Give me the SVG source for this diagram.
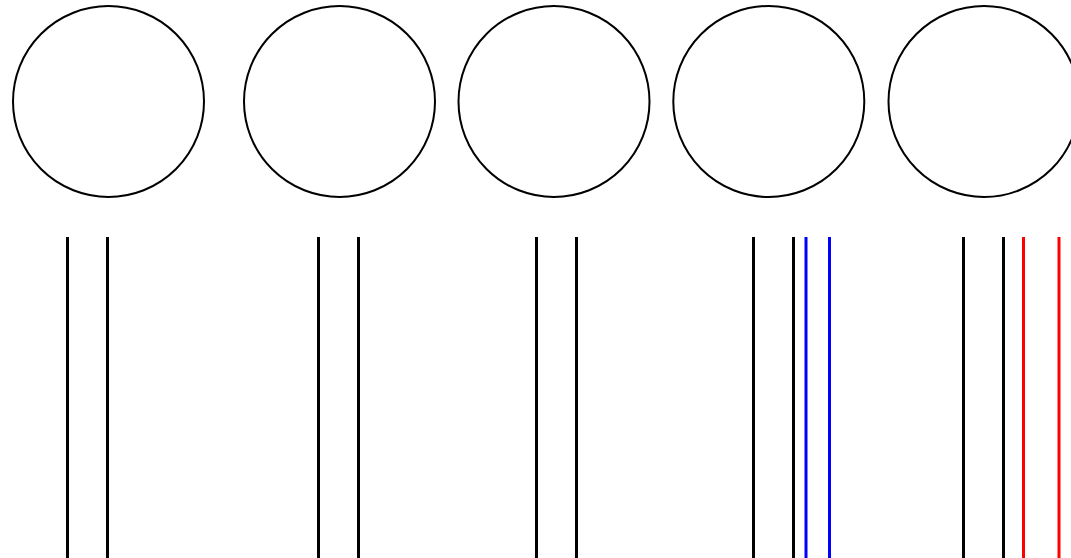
<svg xmlns="http://www.w3.org/2000/svg" width="1071" height="558" viewBox="0 0 1071 558">
<style>
.node{fill:none;stroke:#000;stroke-width:2}
.ln{stroke:#000;stroke-width:3;fill:none}
.blue{stroke:#0000ff}
.red{stroke:#ff0000}
</style>
<rect width="1071" height="558" fill="#fff"/>
<g id="node1"><circle class="node" cx="108.5" cy="101.5" r="95.5"/></g>
<g id="node2"><circle class="node" cx="339.5" cy="101.5" r="95.5"/></g>
<g id="node3"><circle class="node" cx="554" cy="101.5" r="95.5"/></g>
<g id="node4"><circle class="node" cx="768.8" cy="101.5" r="95.5"/></g>
<g id="node5"><circle class="node" cx="984" cy="101.5" r="95.5"/></g>
<g id="connectors">
<line class="ln" x1="67.5" y1="237" x2="67.5" y2="558"/>
<line class="ln" x1="107.5" y1="237" x2="107.5" y2="558"/>
<line class="ln" x1="318.5" y1="237" x2="318.5" y2="558"/>
<line class="ln" x1="358.5" y1="237" x2="358.5" y2="558"/>
<line class="ln" x1="536.5" y1="237" x2="536.5" y2="558"/>
<line class="ln" x1="576.5" y1="237" x2="576.5" y2="558"/>
<line class="ln" x1="753.5" y1="237" x2="753.5" y2="558"/>
<line class="ln" x1="793.5" y1="237" x2="793.5" y2="558"/>
<line class="ln blue" x1="806" y1="237" x2="806" y2="558"/>
<line class="ln blue" x1="829.5" y1="237" x2="829.5" y2="558"/>
<line class="ln" x1="963.5" y1="237" x2="963.5" y2="558"/>
<line class="ln" x1="1003.5" y1="237" x2="1003.5" y2="558"/>
<line class="ln red" x1="1023.5" y1="237" x2="1023.5" y2="558"/>
<line class="ln red" x1="1059" y1="237" x2="1059" y2="558"/>
</g>
</svg>
